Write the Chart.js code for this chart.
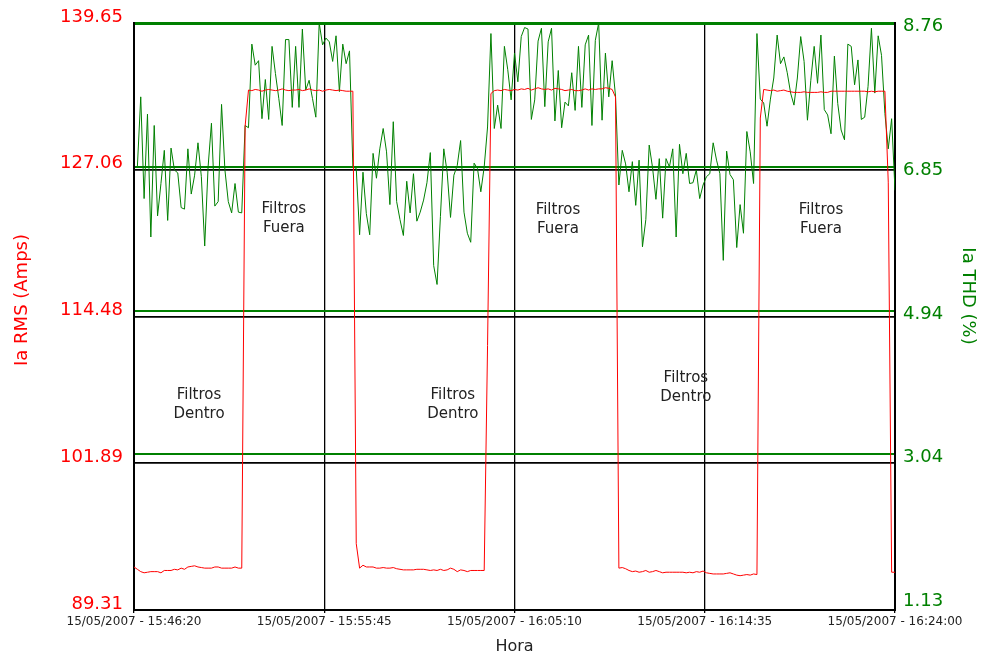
<!DOCTYPE html>
<html>
<head>
<meta charset="utf-8">
<script src="https://cdn.jsdelivr.net/npm/chart.js@4.4.1/dist/chart.umd.min.js"></script>
<style>
  html, body { margin: 0; padding: 0; background: #ffffff; }
  canvas { display: block; }
</style>
</head>
<body>
<canvas id="c" width="987" height="660"></canvas>
<script>
// ---------------- DATA ----------------
const startLabel = "15/05/2007";
const sampleSeconds = 10; // one reading every 10 s, 15:46:20 .. 16:24:00

// Ia RMS (Amps) readings
const iaRms = [
  93.0, 92.8, 92.6, 92.5, 92.55, 92.6, 92.6, 92.6, 92.5, 92.7,
  92.7, 92.7, 92.8, 92.75, 92.9, 92.8, 93.0, 93.05, 93.1, 93.0,
  92.95, 92.9, 92.9, 92.9, 93.0, 93.0, 92.9, 92.9, 92.9, 92.9,
  93.0, 92.9, 92.9,
  130.8,
  133.9, 133.85, 133.95, 133.9, 133.8, 133.9, 133.95, 133.9, 133.85, 133.9,
  134.0, 133.9, 133.85, 133.9, 133.9, 133.95, 133.85, 133.9, 134.0, 133.9,
  133.85, 133.9, 133.8, 133.9, 133.95, 133.9, 133.85, 133.9, 133.85, 133.8,
  133.8, 133.8,
  95.0,
  92.9, 93.15, 93.0, 93.0, 93.0, 92.9, 92.9, 92.95, 92.9, 92.9,
  92.95, 92.85, 92.8, 92.75, 92.75, 92.75, 92.75, 92.8, 92.8, 92.8,
  92.75, 92.7, 92.75, 92.7, 92.8, 92.7, 92.75, 92.9, 92.8, 92.6,
  92.75, 92.7, 92.6, 92.7, 92.7, 92.7, 92.7, 92.7,
  112.0,
  133.6, 133.85, 133.9, 133.85, 133.95, 133.9, 133.85, 133.95, 133.9, 134.0,
  133.95, 134.05, 133.9, 134.0, 134.1, 134.0, 133.95, 134.0, 133.9, 134.05,
  134.0, 133.95, 133.85, 133.9, 133.95, 133.85, 133.85, 133.9, 134.0, 133.9,
  134.0, 133.95, 134.0, 134.0, 134.1, 134.05, 133.95, 133.3,
  92.9, 92.95, 92.85, 92.7, 92.6, 92.65, 92.55, 92.6, 92.7, 92.55,
  92.6, 92.7, 92.6, 92.5, 92.55, 92.55, 92.55, 92.55, 92.55, 92.55,
  92.5, 92.55, 92.5, 92.6, 92.55, 92.65, 92.5, 92.45, 92.4, 92.4,
  92.4, 92.4, 92.45, 92.5, 92.4, 92.3, 92.25, 92.3, 92.35, 92.3,
  92.4, 92.35,
  131.5,
  133.95, 133.9, 133.85, 133.9, 133.8, 133.85, 133.9, 133.8, 133.75, 133.7,
  133.7, 133.7, 133.75, 133.7, 133.7, 133.7, 133.7, 133.75, 133.7, 133.7,
  133.8, 133.8, 133.8, 133.8, 133.8, 133.8, 133.8, 133.8, 133.8, 133.8,
  133.8, 133.75, 133.8, 133.75, 133.8, 133.8, 133.8,
  126.0, 92.55, 92.55
];

// Ia THD (%) readings (first sample missing)
const iaThd = [
  null,
  6.85, 7.78, 6.43, 7.55, 5.92, 7.40, 6.20, 6.63, 7.07, 6.14,
  7.10, 6.81, 6.77, 6.31, 6.29, 7.09, 6.49, 6.74, 7.17, 6.72,
  5.80, 6.85, 7.43, 6.33, 6.39, 7.68, 6.81, 6.39, 6.24, 6.63,
  6.25, 6.24, 7.40, 7.37, 8.48, 8.20, 8.26, 7.49, 8.01, 7.48,
  8.45, 8.09, 7.76, 7.40, 8.54, 8.54, 7.64, 8.45, 7.64, 8.68,
  7.87, 8.00, 7.76, 7.51, 8.76, 8.47, 8.56, 8.51, 8.25, 8.59,
  7.85, 8.48, 8.22, 8.39, 6.85, 6.83, 5.95, 6.78, 6.23, 5.95,
  7.03, 6.70, 7.09, 7.36, 7.05, 6.35, 7.45, 6.39, 6.15, 5.94,
  6.66, 6.24, 6.76, 6.13, 6.25, 6.41, 6.64, 7.04, 5.54, 5.29,
  6.19, 7.09, 6.78, 6.18, 6.74, 6.87, 7.20, 6.25, 5.97, 5.85,
  6.90, 6.83, 6.52, 6.85, 7.38, 8.62, 7.36, 7.67, 7.36, 8.45,
  8.14, 7.74, 8.36, 7.98, 8.58, 8.70, 8.68, 7.48, 7.74, 8.52,
  8.69, 7.65, 8.51, 8.69, 7.46, 8.13, 7.37, 7.71, 7.66, 8.10,
  7.60, 8.45, 7.64, 8.47, 8.60, 7.40, 8.53, 8.76, 7.47, 8.36,
  7.78, 8.26, 7.79, 6.61, 7.07, 6.89, 6.52, 6.92, 6.34, 6.94,
  5.79, 6.15, 7.14, 6.84, 6.42, 6.96, 6.17, 6.96, 6.85, 7.09,
  5.92, 7.15, 6.76, 7.03, 6.63, 6.64, 6.81, 6.43, 6.61, 6.72,
  6.76, 7.17, 6.94, 6.76, 5.61, 7.06, 6.75, 6.68, 5.78, 6.35,
  5.97, 7.32, 7.05, 6.63, 8.62, 7.75, 7.70, 7.39, 7.75, 8.03,
  8.60, 8.22, 8.31, 8.10, 7.83, 7.67, 8.03, 8.58, 8.25, 7.47,
  8.00, 8.45, 7.96, 8.60, 7.61, 7.54, 7.29, 8.32, 7.69, 7.34,
  7.21, 8.48, 8.45, 7.94, 8.27, 7.48, 7.51, 7.92, 8.69, 7.83,
  8.59, 8.33, 7.56, 7.09, 7.49, 6.54
];

// Tick values / labels
const xTickSeconds = [0, 565, 1130, 1695, 2260];
const xTickLabels = [
  "15/05/2007 - 15:46:20",
  "15/05/2007 - 15:55:45",
  "15/05/2007 - 16:05:10",
  "15/05/2007 - 16:14:35",
  "15/05/2007 - 16:24:00"
];
const rmsTicks = [89.31, 101.89, 114.48, 127.06, 139.65];
const thdTicks = [1.13, 3.04, 4.94, 6.85, 8.76];

// Text notes (seconds from start, Ia RMS value)
const noteTexts = [["Filtros", "Fuera"], ["Filtros", "Fuera"], ["Filtros", "Fuera"],
                   ["Filtros", "Dentro"], ["Filtros", "Dentro"], ["Filtros", "Dentro"]];
const noteSeconds = [445, 1259, 2040, 193, 947, 1639];
const noteRms = [122.9, 122.8, 122.8, 106.9, 106.9, 108.35];

// ---------------- CHART ----------------
const FONT = "'DejaVu Sans', 'Noto Sans', sans-serif";
Chart.defaults.font.family = FONT;

const rmsPoints = iaRms.map((v, i) => ({ x: i * sampleSeconds, y: v }));
const thdPoints = iaThd.map((v, i) => ({ x: i * sampleSeconds, y: v }));

const notesPlugin = {
  id: 'notes',
  afterDatasetsDraw(chart) {
    const c = chart.ctx;
    const xs = chart.scales.x, ys = chart.scales.yL;
    c.save();
    c.font = "15px " + FONT;
    c.fillStyle = '#222222';
    c.textAlign = 'center';
    c.textBaseline = 'middle';
    noteTexts.forEach((lines, k) => {
      const px = xs.getPixelForValue(noteSeconds[k]);
      const py = ys.getPixelForValue(noteRms[k]);
      const lh = 19;
      lines.forEach((t, j) => {
        c.fillText(t, px, py + (j - (lines.length - 1) / 2) * lh);
      });
    });
    c.restore();
  },
  afterDraw(chart) {
    const c = chart.ctx;
    c.save();
    c.font = "18px " + FONT;
    c.textAlign = 'center';
    c.textBaseline = 'middle';
    c.save();
    c.translate(22, 300);
    c.rotate(-Math.PI / 2);
    c.fillStyle = '#ff0000';
    c.fillText('Ia RMS (Amps)', 0, 0);
    c.restore();
    c.save();
    c.translate(968, 296);
    c.rotate(Math.PI / 2);
    c.fillStyle = '#008000';
    c.fillText('Ia THD (%)', 0, 0);
    c.restore();
    c.restore();
  }
};

new Chart(document.getElementById('c'), {
  type: 'line',
  data: {
    datasets: [
      { label: 'Ia RMS (Amps)', data: rmsPoints, yAxisID: 'yL',
        borderColor: '#ff0000', borderWidth: 1, pointRadius: 0, tension: 0, fill: false },
      { label: 'Ia THD (%)', data: thdPoints, yAxisID: 'yR',
        borderColor: '#008000', borderWidth: 1, pointRadius: 0, tension: 0, fill: false }
    ]
  },
  options: {
    responsive: false,
    animation: false,
    devicePixelRatio: 1,
    parsing: false,
    normalized: true,
    layout: { padding: { top: 23, left: 0, right: 0, bottom: 0 } },
    plugins: { legend: { display: false }, tooltip: { enabled: false }, title: { display: false } },
    scales: {
      x: {
        type: 'linear', position: 'bottom', min: 0, max: 2260,
        afterBuildTicks: s => { s.ticks = xTickSeconds.map(v => ({ value: v })); },
        afterFit: s => { s.height = 50; },
        grid: { color: '#000000', lineWidth: 1.3, drawTicks: true, tickLength: 3, tickColor: '#000000' },
        border: { color: '#000000', width: 2 },
        ticks: {
          autoSkip: false, maxRotation: 0, minRotation: 0, padding: 2,
          color: '#222222', font: { size: 12 },
          callback: (v, i) => xTickLabels[i]
        },
        title: { display: true, text: 'Hora', color: '#222222', font: { size: 16 }, padding: { top: 0, bottom: 4 } }
      },
      yL: {
        type: 'linear', position: 'left', min: 89.31, max: 139.65,
        afterBuildTicks: s => { s.ticks = rmsTicks.map(v => ({ value: v })); },
        afterFit: s => { s.width = 134; },
        grid: {
          color: c => (c.tick && c.tick.value === 139.65) ? 'rgba(0,0,0,0)' : '#000000',
          lineWidth: 1.7, drawTicks: false
        },
        border: { color: '#000000', width: 2 },
        ticks: {
          color: '#ff0000', font: { size: 18 }, padding: 11, labelOffset: -6,
          callback: v => Number(v).toFixed(2)
        }
      },
      yR: {
        type: 'linear', position: 'right', min: 0.97, max: 8.76,
        afterBuildTicks: s => { s.ticks = thdTicks.map(v => ({ value: v })); },
        afterFit: s => { s.width = 92; },
        grid: {
          color: c => (c.tick && c.tick.value === 1.13) ? 'rgba(0,0,0,0)' : '#008000',
          lineWidth: c => (c.tick && c.tick.value === 8.76) ? 3 : 2,
          drawTicks: false
        },
        border: { color: '#000000', width: 2 },
        ticks: {
          color: '#008000', font: { size: 18 }, padding: 8, labelOffset: 3,
          callback: v => Number(v).toFixed(2)
        }
      }
    }
  },
  plugins: [notesPlugin]
});
</script>
</body>
</html>
